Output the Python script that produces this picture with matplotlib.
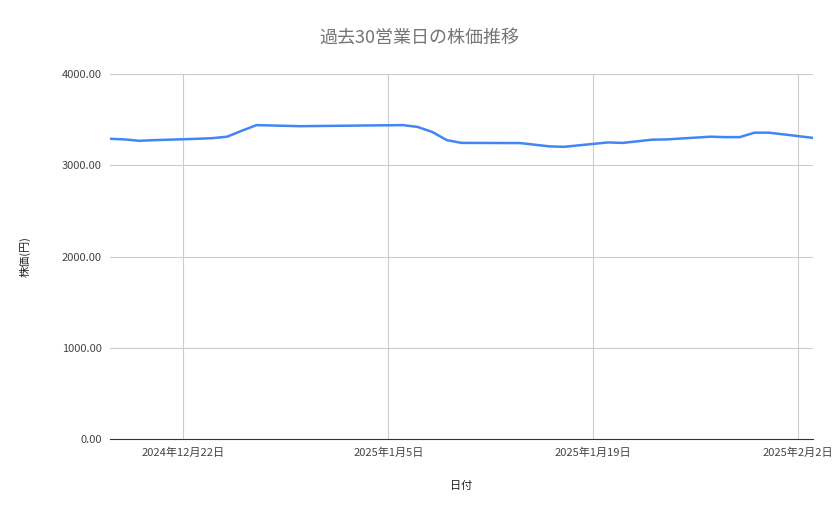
import matplotlib
matplotlib.use("Agg")
import matplotlib.pyplot as plt
import numpy as np
import datetime as dt

plt.rcParams['font.family'] = ['Noto Sans CJK JP', 'DejaVu Sans']

dates = ["2024-12-17", "2024-12-18", "2024-12-19", "2024-12-20", "2024-12-23",
         "2024-12-24", "2024-12-25", "2024-12-26", "2024-12-27", "2024-12-30",
         "2025-01-06", "2025-01-07", "2025-01-08", "2025-01-09", "2025-01-10",
         "2025-01-14", "2025-01-15", "2025-01-16", "2025-01-17", "2025-01-20",
         "2025-01-21", "2025-01-22", "2025-01-23", "2025-01-24", "2025-01-27",
         "2025-01-28", "2025-01-29", "2025-01-30", "2025-01-31", "2025-02-03"]
prices = [3290, 3283, 3268, 3275, 3290, 3297, 3313, 3378, 3440, 3428,
          3440, 3420, 3365, 3275, 3245, 3243, 3225, 3207, 3202, 3250,
          3245, 3262, 3280, 3283, 3313, 3308, 3308, 3357, 3357, 3300]
tick_dates = ["2024-12-22", "2025-01-05", "2025-01-19", "2025-02-02"]

x = [dt.datetime.strptime(d, "%Y-%m-%d") for d in dates]
ticks = [dt.datetime.strptime(d, "%Y-%m-%d") for d in tick_dates]

fig = plt.figure(figsize=(8.39, 5.19), dpi=100)
ax = fig.add_axes([110/839, 1 - 439/519, (813 - 110)/839, (439 - 74)/519])
ax.plot(x, prices, color="#4285f4", lw=1.8)

ax.set_xlim(x[0], x[-1])
ax.set_ylim(0, 4000)
ax.set_yticks(np.arange(0, 4001, 1000))
ax.yaxis.set_major_formatter(matplotlib.ticker.FuncFormatter(lambda v, p: f"{v:.2f}"))
ax.set_xticks(ticks)
ax.set_xticklabels([f"{t.year}年{t.month}月{t.day}日" for t in ticks])
ax.grid(True, color="#cccccc", lw=0.8)
ax.set_axisbelow(True)
for s in ["top", "right", "left"]:
    ax.spines[s].set_visible(False)
ax.spines["bottom"].set_color("#333333")
ax.tick_params(length=0, labelsize=8, colors="#444444", pad=6)

fig.suptitle("過去30営業日の株価推移", fontsize=13, color="#757575", x=0.5, y=1 - 38/519, va="center")
ax.set_xlabel("日付", fontsize=8, color="#222222", labelpad=17)
ax.set_ylabel("株価(円)", fontsize=8, color="#222222", labelpad=22)

fig.savefig("out.png", dpi=100)
